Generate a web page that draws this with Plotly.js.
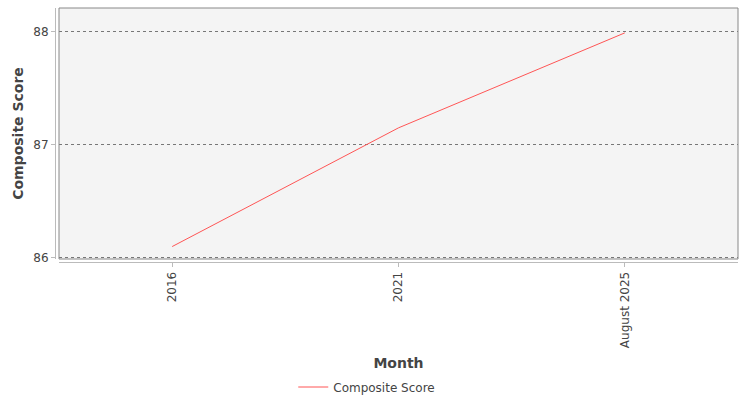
<!DOCTYPE html>
<html>
<head>
<meta charset="utf-8">
<script src="https://cdn.plot.ly/plotly-3.0.1.min.js"></script>
<style>
  html, body { margin: 0; padding: 0; background: #fff; }
  #chart { width: 750px; height: 400px; }
</style>
</head>
<body>
<div id="chart"></div>
<script>
var months = ["2016", "2021", "August 2025"];
var scores = [86.1, 87.15, 87.99];
var seriesName = "Composite Score";

var trace = {
  x: months,
  y: scores,
  name: seriesName,
  type: "scatter",
  mode: "lines",
  line: { color: "#ff5555", width: 1 }
};

// axis lines sit a few pixels off the plot frame
var xStart = 4 / 683;
var yStart = 3 / 254;

var layout = {
  width: 750,
  height: 400,
  margin: { l: 55, r: 12, t: 8, b: 138 },
  paper_bgcolor: "#ffffff",
  plot_bgcolor: "#f4f4f4",
  font: { family: "DejaVu Sans", size: 11, color: "#444" },
  showlegend: true,
  legend: {
    orientation: "h",
    xref: "container", yref: "container",
    x: 0.489, xanchor: "center",
    y: 13 / 400, yanchor: "middle",
    font: { size: 12, color: "#444" },
    itemwidth: 30,
    tracegroupgap: 0
  },
  xaxis: {
    type: "category",
    domain: [xStart, 1],
    range: [-0.5, 2.5],
    anchor: "free",
    position: 0,
    automargin: false,
    showgrid: false,
    zeroline: false,
    showline: true,
    linecolor: "#bbbbbb",
    linewidth: 1,
    ticks: "outside",
    ticklen: 4,
    tickcolor: "#bbbbbb",
    tickangle: -90,
    tickfont: { size: 12, color: "#444" },
    title: { text: "Month", font: { size: 14, color: "#444", weight: "bold" }, standoff: 11 }
  },
  yaxis: {
    domain: [yStart, 1],
    range: [85.99, 88.21],
    anchor: "free",
    position: 0,
    automargin: false,
    tickvals: [86, 87, 88],
    showgrid: true,
    gridcolor: "#777",
    griddash: "dot",
    gridwidth: 1,
    zeroline: false,
    showline: true,
    linecolor: "#bbbbbb",
    linewidth: 1,
    ticks: "outside",
    ticklen: 4,
    tickcolor: "#bbbbbb",
    tickfont: { size: 12, color: "#444" },
    title: { text: "Composite Score", font: { size: 14, color: "#444", weight: "bold" }, standoff: 5 }
  },
  shapes: [
    {
      type: "rect", xref: "paper", yref: "paper",
      x0: xStart, x1: 1, y0: yStart, y1: 1,
      line: { color: "#888888", width: 1 },
      fillcolor: "rgba(0,0,0,0)"
    }
  ]
};

Plotly.newPlot("chart", [trace], layout, { displayModeBar: false, staticPlot: true });
</script>
</body>
</html>
